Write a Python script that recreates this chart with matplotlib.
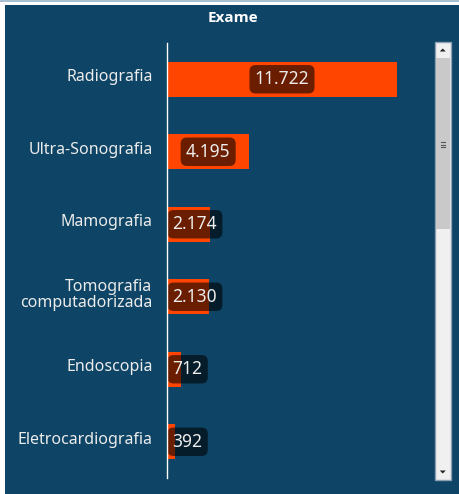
import matplotlib
matplotlib.use("Agg")
import matplotlib.pyplot as plt
import matplotlib.transforms as mtransforms
from matplotlib.patches import Rectangle, Polygon

categories = ["Radiografia", "Ultra-Sonografia", "Mamografia",
              "Tomografia\ncomputadorizada", "Endoscopia", "Eletrocardiografia"]
values = [11722, 4195, 2174, 2130, 712, 392]
labels = ["11.722", "4.195", "2.174", "2.130", "712", "392"]
title = "Exame"

W, H = 459, 494
BG = "#0e4465"
BAR = "#ff4500"
FONT = ["Noto Sans", "DejaVu Sans"]
plt.rcParams["font.family"] = FONT

fig = plt.figure(figsize=(W / 100, H / 100), dpi=100, facecolor="white")

def fx(px):
    return px / W

def fy(py):
    return 1 - py / H

# background panel
fig.patches.append(Rectangle((fx(5), 0), 1 - fx(5), fy(5), transform=fig.transFigure,
                             facecolor=BG, edgecolor="none", zorder=-2))
fig.patches.append(Rectangle((0, fy(2)), 1, 2 / H, transform=fig.transFigure,
                             facecolor="#a9bfd2", edgecolor="none", zorder=-2))

fig.text(fx(233), fy(18), title, color="white", fontsize=11, fontweight="bold",
         family=["Open Sans", "DejaVu Sans"], ha="center", va="center")

ax = fig.add_axes([fx(167), fy(478), fx(425) - fx(167), (478 - 43) / H])
ax.set_zorder(1)
ax.set_facecolor("none")
y = list(range(len(categories)))
ax.barh(y, values, height=0.48, color=BAR, zorder=2)
ax.set_ylim(len(categories) - 0.5, -0.5)
ax.set_xlim(0, 13150)
ax.set_yticks(y)
ax.set_yticklabels(categories, color="#ececec", fontsize=11.5, linespacing=1.05)
ax.tick_params(axis="y", length=0, pad=10.5)
up = mtransforms.ScaledTranslation(0, 3 / 72, fig.dpi_scale_trans)
for t in ax.get_yticklabels():
    t.set_transform(t.get_transform() + up)
ax.set_xticks([])
for s in ["top", "right", "bottom"]:
    ax.spines[s].set_visible(False)
ax.spines["left"].set_color("white")
ax.spines["left"].set_linewidth(1.0)
ax.spines["left"].set_zorder(5)

box = dict(boxstyle="round,pad=0.3,rounding_size=0.35", facecolor="black",
           alpha=0.58, edgecolor="none")
for yi, v, lab in zip(y, values, labels):
    if v > 3000:
        ax.text(v / 2, yi, lab, ha="center", va="center", color="#ececec",
                fontsize=12.5, bbox=box, zorder=4)
    else:
        ax.annotate(lab, xy=(0, yi), xytext=(4, 0), textcoords="offset points",
                    ha="left", va="center", color="#ececec", fontsize=12.5,
                    bbox=box, zorder=4)

# scrollbar
def rect(x0, y0, x1, y1, fc, ec="none", lw=0):
    fig.patches.append(Rectangle((fx(x0), fy(y1)), fx(x1) - fx(x0), fy(y0) - fy(y1),
                                 transform=fig.transFigure, facecolor=fc,
                                 edgecolor=ec, linewidth=lw, zorder=3))

rect(434.5, 42.5, 451, 480, "#f0f0f0", "#8d9fb3", 1.0)
rect(435.5, 58, 450, 229, "#c9c9c9")
for cy, upw in [(50, True), (472, False)]:
    cx = 442.75
    if upw:
        pts = [(cx - 3, cy + 1.5), (cx + 3, cy + 1.5), (cx, cy - 1.5)]
    else:
        pts = [(cx - 3, cy - 1.5), (cx + 3, cy - 1.5), (cx, cy + 1.5)]
    fig.patches.append(Polygon([(fx(a), fy(b)) for a, b in pts], closed=True,
                               transform=fig.transFigure, facecolor="#222222",
                               edgecolor="none", zorder=4))
for dy in (-2.5, 0, 2.5):
    fig.lines.append(plt.Line2D([fx(440.5), fx(445)], [fy(145 + dy)] * 2,
                                transform=fig.transFigure, color="#555555",
                                linewidth=0.8, zorder=4))

fig.savefig("out.png", dpi=100, facecolor=fig.get_facecolor())
